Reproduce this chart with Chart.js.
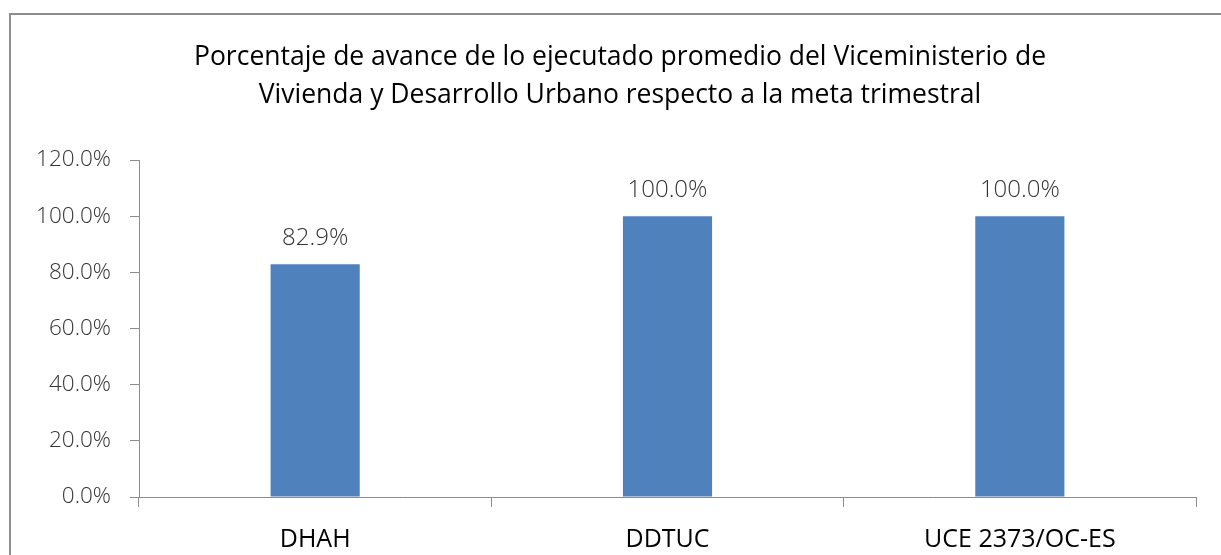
<!DOCTYPE html>
<html>
<head>
<meta charset="utf-8">
<script src="https://cdn.jsdelivr.net/npm/chart.js@4/dist/chart.umd.min.js"></script>
<style>
  html, body { margin: 0; padding: 0; background: #fff; overflow: hidden; }
  #frame { position: absolute; left: 9px; top: 13px; width: 1400px; height: 700px; border: 2px solid #8e8e8e; }
  #wrap { position: absolute; left: 0; top: 0; width: 1221px; height: 555px; }
</style>
</head>
<body>
<div id="frame"></div>
<div id="wrap"><canvas id="chart"></canvas></div>
<script>
  const CATEGORIES = ['DHAH', 'DDTUC', 'UCE 2373/OC-ES'];
  const AVANCE = [82.9, 100.0, 100.0];
  const TITLE = [
    'Porcentaje de avance de lo ejecutado promedio del Viceministerio de',
    'Vivienda y Desarrollo Urbano respecto a la meta trimestral'
  ];

  const FONT = '"Open Sans", "Noto Sans", sans-serif';
  const AXIS_GRAY = '#8c8c8c';

  // two-line title, centred a bit left of the plot area like the original
  const titleLines = {
    id: 'titleLines',
    afterDraw(chart) {
      const ctx = chart.ctx;
      ctx.save();
      ctx.font = '26.5px ' + FONT;
      ctx.fillStyle = '#000';
      ctx.textAlign = 'center';
      ctx.textBaseline = 'middle';
      TITLE.forEach((line, i) => ctx.fillText(line, 620, 57 + i * 38));
      ctx.restore();
    }
  };

  // value labels above the bars
  const barLabels = {
    id: 'barLabels',
    afterDatasetsDraw(chart) {
      const ctx = chart.ctx;
      const meta = chart.getDatasetMeta(0);
      ctx.save();
      ctx.font = '300 24px ' + FONT;
      ctx.fillStyle = '#333';
      ctx.textAlign = 'center';
      ctx.textBaseline = 'middle';
      meta.data.forEach((bar, i) => {
        ctx.fillText(AVANCE[i].toFixed(1) + '%', bar.x, bar.y - 26);
      });
      ctx.restore();
    }
  };

  new Chart(document.getElementById('chart'), {
    type: 'bar',
    data: {
      labels: CATEGORIES,
      datasets: [{
        data: AVANCE,
        backgroundColor: '#4F81BD',
        borderWidth: 0,
        barPercentage: 0.5,
        categoryPercentage: 0.506
      }]
    },
    options: {
      responsive: true,
      maintainAspectRatio: false,
      devicePixelRatio: 1,
      animation: false,
      layout: { padding: { left: 0, right: 25, top: 160, bottom: 0 } },
      plugins: {
        legend: { display: false },
        tooltip: { enabled: false },
        title: { display: false }
      },
      scales: {
        x: {
          grid: { display: true, drawOnChartArea: false, drawTicks: true, tickLength: 10, color: AXIS_GRAY, offset: true },
          border: { display: true, color: AXIS_GRAY, width: 1 },
          ticks: { color: '#000', font: { family: FONT, size: 25 }, padding: 18 },
          afterFit(scale) { scale.height = 58; }
        },
        y: {
          min: 0,
          max: 120,
          ticks: {
            stepSize: 20,
            color: '#333',
            font: { family: FONT, size: 22.5, weight: '300' },
            padding: 19,
            callback: v => v.toFixed(1) + '%'
          },
          grid: { display: true, drawOnChartArea: false, drawTicks: true, tickLength: 9, color: AXIS_GRAY },
          border: { display: true, color: AXIS_GRAY, width: 1 },
          afterFit(scale) { scale.width = 139; }
        }
      }
    },
    plugins: [barLabels, titleLines]
  });
</script>
</body>
</html>
